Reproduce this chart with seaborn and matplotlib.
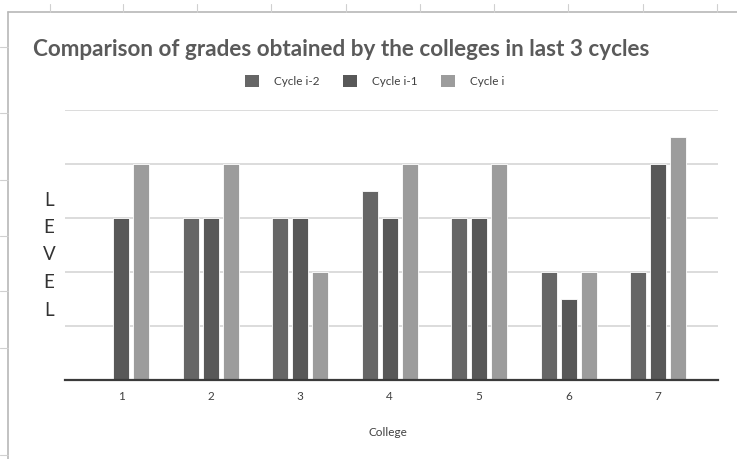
import matplotlib
matplotlib.use("Agg")
import matplotlib.pyplot as plt
from matplotlib.lines import Line2D
import seaborn as sns
import pandas as pd

# Grade levels per college for the last three accreditation cycles
colleges = ["1", "2", "3", "4", "5", "6", "7"]
cycle_i_minus_2 = [0, 3, 3, 3.5, 3, 2, 2]
cycle_i_minus_1 = [3, 3, 3, 3, 3, 1.5, 4]
cycle_i = [4, 4, 2, 4, 4, 2, 4.5]
series_names = ["Cycle i-2", "Cycle i-1", "Cycle i"]
series_colors = ["#666666", "#585858", "#9c9c9c"]

title_text = "Comparison of grades obtained by the colleges in last 3 cycles"
x_label = "College"
y_label = "LEVEL"

df = pd.DataFrame({
    "College": colleges * 3,
    "Level": cycle_i_minus_2 + cycle_i_minus_1 + cycle_i,
    "Cycle": [series_names[0]] * 7 + [series_names[1]] * 7 + [series_names[2]] * 7,
})

sns.set_style("white")
plt.rcParams["font.family"] = ["Lato", "DejaVu Sans"]

W, H = 737, 459
fig = plt.figure(figsize=(W / 100, H / 100), dpi=100)
fig.patch.set_facecolor("white")

# plot area in pixel coordinates
left_px, right_px, top_px, bottom_px = 65, 718, 110, 380
ax = fig.add_axes([left_px / W, 1 - bottom_px / H,
                   (right_px - left_px) / W, (bottom_px - top_px) / H])

sns.barplot(data=df, x="College", y="Level", hue="Cycle",
            hue_order=series_names, palette=series_colors,
            width=0.67, gap=0.2, saturation=1, edgecolor="white",
            linewidth=0.6, legend=False, ax=ax, zorder=3)

ax.set_ylim(0, 5)
ax.set_xlim(-0.63, 6.67)
ax.set_yticks([1, 2, 3, 4, 5])
ax.set_yticklabels([])
ax.yaxis.grid(True, color="#d9d9d9", linewidth=1.3, zorder=0)
ax.xaxis.grid(False)
ax.tick_params(axis="both", length=0)
ax.tick_params(axis="x", labelsize=8.5, labelcolor="#404040", pad=8)
for side in ("top", "right", "left"):
    ax.spines[side].set_visible(False)
ax.spines["bottom"].set_color("#3a3a3a")
ax.spines["bottom"].set_linewidth(1.6)
ax.spines["bottom"].set_zorder(4)
ax.set_xlabel("")
ax.set_ylabel("")

# axis titles
fig.text(388 / W, 1 - 432 / H, x_label, ha="center", va="center",
         fontsize=8.5, color="#404040")
for i, ch in enumerate(y_label):
    fig.text(49 / W, 1 - (200 + 27.5 * i) / H, ch, ha="center", va="center",
             fontsize=13.5, color="#333333")

# chart title
fig.text(33 / W, 1 - 50 / H, title_text, ha="left", va="center",
         fontsize=16.2, fontweight="bold", color="#5a5a5a")

# legend
handles = [plt.Rectangle((0, 0), 1, 1, facecolor=c, edgecolor="none")
           for c in series_colors]
fig.legend(handles, series_names, loc="center", ncol=3,
           bbox_to_anchor=(375 / W, 1 - 81 / H), frameon=False,
           fontsize=8.5, labelcolor="#404040", handlelength=1.15,
           handleheight=1.3, handletextpad=1.3, columnspacing=2.0)

# sheet frame around the chart object
frame_color = "#b8b8b8"
fig.add_artist(Line2D([8 / W, 8 / W], [0, 1 - 12 / H], color=frame_color,
                      linewidth=1.2, transform=fig.transFigure))
fig.add_artist(Line2D([8 / W, 1], [1 - 12 / H, 1 - 12 / H], color=frame_color,
                      linewidth=1.2, transform=fig.transFigure))
for xc in [50, 123, 197, 271, 346, 420, 494, 568, 643, 717]:
    fig.add_artist(Line2D([xc / W, xc / W], [1 - 12 / H, 1 - 4 / H],
                          color="#d0d0d0", linewidth=0.8,
                          transform=fig.transFigure))
for yr in [47, 113, 180, 236, 291, 348, 455]:
    fig.add_artist(Line2D([0, 8 / W], [1 - yr / H, 1 - yr / H],
                          color="#d0d0d0", linewidth=0.8,
                          transform=fig.transFigure))

fig.savefig("out.png", dpi=100, facecolor="white")
